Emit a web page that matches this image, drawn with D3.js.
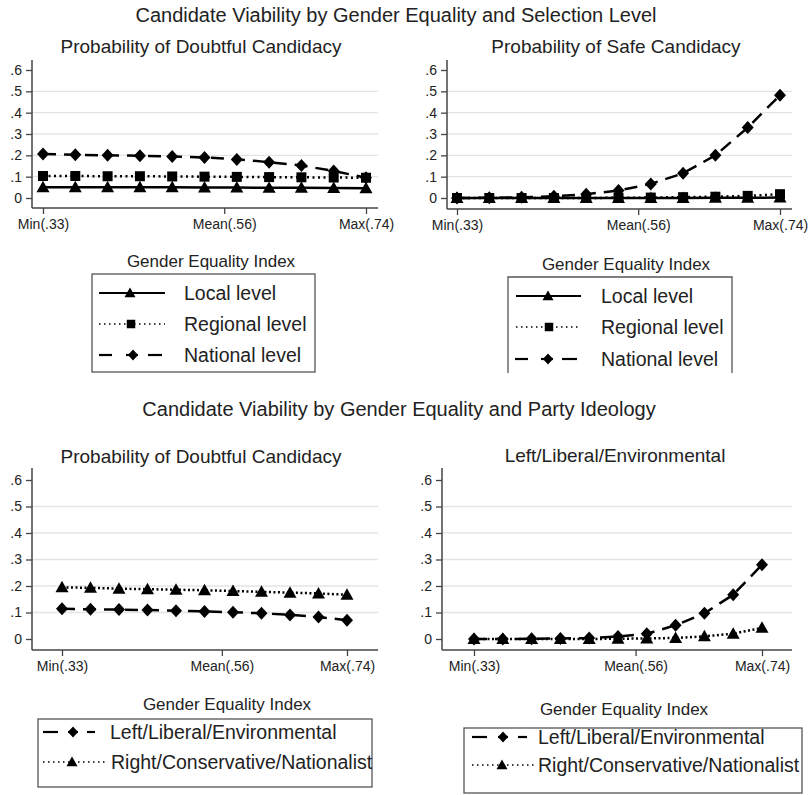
<!DOCTYPE html>
<html>
<head>
<meta charset="utf-8">
<script src="https://cdn.jsdelivr.net/npm/d3@7"></script>
<style>
  body { margin: 0; background: #fff; }
  svg text { font-family: "Liberation Sans", Arial, sans-serif; fill: #222; }
</style>
</head>
<body>
<div id="chart"></div>
<script>
// gender equality index values (11 evaluation points)
var geIndex = [0.33, 0.371, 0.412, 0.453, 0.494, 0.535, 0.576, 0.617, 0.658, 0.699, 0.74];
var xTickVals = [0.33, 0.56, 0.74];
var xTickLabels = ["Min(.33)", "Mean(.56)", "Max(.74)"];
var yTickVals = [0, 0.1, 0.2, 0.3, 0.4, 0.5, 0.6];
var yTickLabels = ["0", ".1", ".2", ".3", ".4", ".5", ".6"];
var gridVals = [0.1, 0.2, 0.3, 0.4, 0.5];

// selection level - doubtful candidacy
var doubtLocal    = [0.050, 0.050, 0.050, 0.050, 0.050, 0.049, 0.049, 0.048, 0.048, 0.047, 0.046];
var doubtRegional = [0.103, 0.103, 0.102, 0.102, 0.101, 0.100, 0.099, 0.098, 0.097, 0.096, 0.095];
var doubtNational = [0.206, 0.203, 0.200, 0.198, 0.195, 0.190, 0.181, 0.168, 0.152, 0.127, 0.095];
// selection level - safe candidacy
var safeLocal    = [0.000, 0.000, 0.000, 0.000, 0.000, 0.000, 0.000, 0.000, 0.001, 0.001, 0.002];
var safeRegional = [0.000, 0.000, 0.000, 0.000, 0.000, 0.001, 0.002, 0.004, 0.006, 0.010, 0.018];
var safeNational = [0.000, 0.001, 0.003, 0.008, 0.018, 0.035, 0.066, 0.116, 0.200, 0.330, 0.482];
// party ideology - doubtful candidacy
var ideoDoubtLeft  = [0.114, 0.112, 0.111, 0.109, 0.107, 0.104, 0.101, 0.097, 0.091, 0.083, 0.071];
var ideoDoubtRight = [0.195, 0.193, 0.190, 0.188, 0.186, 0.184, 0.181, 0.178, 0.175, 0.172, 0.167];
// party ideology - second panel
var ideoLeft  = [0.000, 0.000, 0.001, 0.002, 0.004, 0.009, 0.020, 0.052, 0.097, 0.167, 0.280];
var ideoRight = [0.000, 0.000, 0.000, 0.000, 0.000, 0.001, 0.002, 0.004, 0.010, 0.020, 0.042];

var svg = d3.select("#chart").append("svg")
    .attr("width", 810)
    .attr("height", 795);

// marker shapes
var markers = {
  diamond: "M0,-6.5L6,0L0,6.5L-6,0Z",
  square: "M-5,-5H5V5H-5Z",
  triangle: "M0,-6.5L6.5,5H-6.5Z"
};
var styles = {
  local:    { dash: null,  marker: "triangle" },
  regional: { dash: "2,3.5", marker: "square" },
  national: { dash: "13,8", marker: "diamond" },
  left:     { dash: "13,8", marker: "diamond" },
  right:    { dash: "2,2.5", marker: "triangle" }
};

var panels = [
  { title: "Probability of Doubtful Candidacy", tx: 201, ty: 53,
    left: 32, right: 378, top: 60, bottom: 208, xr: [43, 366], yr: [198, 70],
    gx: 211, gy: 267,
    series: [{ v: doubtNational, s: "national" }, { v: doubtRegional, s: "regional" }, { v: doubtLocal, s: "local" }] },
  { title: "Probability of Safe Candidacy", tx: 616, ty: 53,
    left: 447, right: 792, top: 60, bottom: 209, xr: [457, 780], yr: [198, 70],
    gx: 626, gy: 270,
    series: [{ v: safeNational, s: "national" }, { v: safeRegional, s: "regional" }, { v: safeLocal, s: "local" }] },
  { title: "Probability of Doubtful Candidacy", tx: 201, ty: 463,
    left: 32, right: 378, top: 468, bottom: 650, xr: [62, 347], yr: [639, 480],
    gx: 227, gy: 710,
    series: [{ v: ideoDoubtRight, s: "right" }, { v: ideoDoubtLeft, s: "left" }] },
  { title: "Left/Liberal/Environmental", tx: 615, ty: 462,
    left: 442, right: 792, top: 468, bottom: 650, xr: [474, 762], yr: [639, 480],
    gx: 624, gy: 715,
    series: [{ v: ideoRight, s: "right" }, { v: ideoLeft, s: "left" }] }
];

// main titles
svg.append("text").attr("x", 396).attr("y", 22).attr("text-anchor", "middle")
  .style("font-size", "20px")
  .text("Candidate Viability by Gender Equality and Selection Level");
svg.append("text").attr("x", 399).attr("y", 416).attr("text-anchor", "middle")
  .style("font-size", "20px")
  .text("Candidate Viability by Gender Equality and Party Ideology");

panels.forEach(function(p) {
  var x = d3.scaleLinear().domain([0.33, 0.74]).range(p.xr);
  var y = d3.scaleLinear().domain([0, 0.6]).range(p.yr);
  var g = svg.append("g");

  g.append("text").attr("x", p.tx).attr("y", p.ty).attr("text-anchor", "middle")
    .style("font-size", "19px").text(p.title);

  // gridlines
  g.selectAll(".grid").data(gridVals).enter().append("line")
    .attr("x1", p.left).attr("x2", p.right)
    .attr("y1", function(d) { return y(d); }).attr("y2", function(d) { return y(d); })
    .attr("stroke", "#e4e4e4").attr("stroke-width", 1.3);

  // y axis
  var ya = g.append("g").attr("transform", "translate(" + p.left + ",0)")
    .call(d3.axisLeft(y).tickValues(yTickVals)
      .tickFormat(function(d, i) { return yTickLabels[i]; })
      .tickSize(6).tickPadding(4));
  ya.select(".domain").remove();
  ya.selectAll("line").attr("stroke", "#444").attr("stroke-width", 1.3);
  ya.selectAll("text").style("font-size", "14px").attr("fill", "#222");
  g.append("line").attr("x1", p.left).attr("x2", p.left).attr("y1", p.top).attr("y2", p.bottom)
    .attr("stroke", "#444").attr("stroke-width", 1.5);

  // x axis
  var xa = g.append("g").attr("transform", "translate(0," + p.bottom + ")")
    .call(d3.axisBottom(x).tickValues(xTickVals)
      .tickFormat(function(d, i) { return xTickLabels[i]; })
      .tickSize(6).tickPadding(5));
  xa.select(".domain").remove();
  xa.selectAll("line").attr("stroke", "#444").attr("stroke-width", 1.3);
  xa.selectAll("text").style("font-size", "14px").attr("fill", "#222");
  g.append("line").attr("x1", p.left).attr("x2", p.right).attr("y1", p.bottom).attr("y2", p.bottom)
    .attr("stroke", "#444").attr("stroke-width", 1.5);

  g.append("text").attr("x", p.gx).attr("y", p.gy).attr("text-anchor", "middle")
    .style("font-size", "17px").text("Gender Equality Index");

  // series
  var line = d3.line()
    .x(function(d, i) { return x(geIndex[i]); })
    .y(function(d) { return y(d); });
  p.series.forEach(function(s) {
    var st = styles[s.s];
    g.append("path").datum(s.v)
      .attr("d", line)
      .attr("fill", "none")
      .attr("stroke", "#000")
      .attr("stroke-width", 2.5)
      .attr("stroke-dasharray", st.dash);
    g.selectAll(".m" + s.s).data(s.v).enter().append("path")
      .attr("d", markers[st.marker])
      .attr("transform", function(d, i) { return "translate(" + x(geIndex[i]) + "," + y(d) + ")"; })
      .attr("fill", "#000");
  });
});

// legends
function legendSample(g, x0, x1, cx, yy, style, segs) {
  var st = styles[style];
  if (segs) {
    segs.forEach(function(sg) {
      g.append("line").attr("x1", sg[0]).attr("x2", sg[1]).attr("y1", yy).attr("y2", yy)
        .attr("stroke", "#000").attr("stroke-width", 2.2);
    });
  } else {
    g.append("line").attr("x1", x0).attr("x2", x1).attr("y1", yy).attr("y2", yy)
      .attr("stroke", "#000").attr("stroke-width", st.dash ? 1.3 : 2.2)
      .attr("stroke-dasharray", st.dash ? "1.5,3.5" : null);
  }
  g.append("path").attr("d", markers[st.marker])
    .attr("transform", "translate(" + cx + "," + yy + ") scale(0.85)")
    .attr("fill", "#000");
}
function legendText(g, x, y, t) {
  g.append("text").attr("x", x).attr("y", y).attr("dy", "0.36em")
    .style("font-size", "19.5px").text(t);
}

var lg = svg.append("g");
// top-left legend
lg.append("rect").attr("x", 92).attr("y", 274).attr("width", 223).attr("height", 98)
  .attr("fill", "none").attr("stroke", "#555").attr("stroke-width", 1.3);
legendSample(lg, 99, 165, 130, 293, "local");
legendText(lg, 184, 293, "Local level");
legendSample(lg, 99, 165, 131, 324, "regional");
legendText(lg, 184, 324, "Regional level");
legendSample(lg, 99, 165, 133, 355, "national", [[99, 112], [126, 138], [148, 162]]);
legendText(lg, 184, 355, "National level");

// top-right legend (box bottom not shown)
lg.append("path").attr("d", "M508,373V277H732V373")
  .attr("fill", "none").attr("stroke", "#555").attr("stroke-width", 1.3);
legendSample(lg, 516, 581, 548, 296, "local");
legendText(lg, 601, 296, "Local level");
legendSample(lg, 516, 581, 549, 327, "regional");
legendText(lg, 601, 327, "Regional level");
legendSample(lg, 516, 581, 548, 359, "national", [[515, 528], [541, 553], [562, 577]]);
legendText(lg, 601, 359, "National level");

// bottom-left legend
lg.append("rect").attr("x", 38).attr("y", 719).attr("width", 334).attr("height", 68)
  .attr("fill", "none").attr("stroke", "#555").attr("stroke-width", 1.3);
legendSample(lg, 43, 58, 73, 732, "left", [[43, 58], [68, 78], [87, 95]]);
legendText(lg, 110, 732, "Left/Liberal/Environmental");
legendSample(lg, 43, 106, 72, 762, "right");
legendText(lg, 111, 762, "Right/Conservative/Nationalist");

// bottom-right legend
lg.append("rect").attr("x", 464).attr("y", 728).attr("width", 338).attr("height", 65)
  .attr("fill", "none").attr("stroke", "#555").attr("stroke-width", 1.3);
legendSample(lg, 472, 487, 503, 737, "left", [[472, 487], [498, 508], [518, 527]]);
legendText(lg, 538, 737, "Left/Liberal/Environmental");
legendSample(lg, 472, 536, 502, 765, "right");
legendText(lg, 538, 765, "Right/Conservative/Nationalist");
</script>
</body>
</html>
